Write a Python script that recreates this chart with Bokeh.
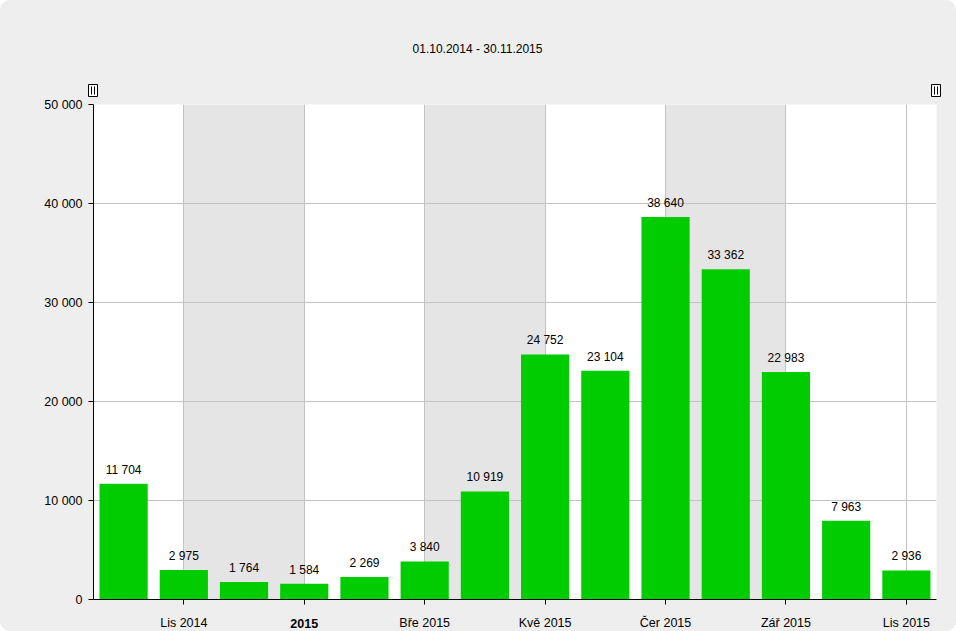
from bokeh.plotting import figure
from bokeh.models import FixedTicker, ColumnDataSource, Grid, CustomLabelingPolicy
from bokeh.layouts import column
from bokeh.core.properties import value
from bokeh.embed import file_html
from bokeh.resources import INLINE

months = ["Říj 2014", "Lis 2014", "Pro 2014", "Led 2015", "Úno 2015", "Bře 2015", "Dub 2015",
          "Kvě 2015", "Čer 2015", "Čvc 2015", "Srp 2015", "Zář 2015", "Říj 2015", "Lis 2015"]
visits = [11704, 2975, 1764, 1584, 2269, 3840, 10919, 24752, 23104, 38640, 33362, 22983, 7963, 2936]
tick_pos = [1, 3, 5, 7, 9, 11, 13]
tick_labels = ["Lis 2014", "2015", "Bře 2015", "Kvě 2015", "Čer 2015", "Zář 2015", "Lis 2015"]
tick_bold = [False, True, False, False, False, False, False]
y_ticks = [0, 10000, 20000, 30000, 40000, 50000]
title_text = "01.10.2014 - 30.11.2015"

FONT = "Liberation Sans"
AXIS_FS = "12.5px"
BG = "#eeeeee"
W = 956
LEFT, RIGHT = 93, 20          # frame borders (px)
TOP_H, MAIN_H, BOT_H = 97, 518, 16

def fmt(v):
    return f"{v:,}".replace(",", " ")

# ---------------- top strip: title + scrollbar handles ----------------
top = figure(width=W, height=TOP_H, output_backend="svg", toolbar_location=None,
             x_range=(0, W), y_range=(TOP_H, 0), x_axis_type=None, y_axis_type=None,
             min_border=0, min_border_left=0, min_border_right=0, min_border_top=0, min_border_bottom=0)
top.frame_align = False
top.background_fill_color = BG
top.border_fill_color = BG
top.outline_line_color = None
top.text(x=[W / 2 - 1], y=[48], text=[title_text], text_align="center", text_baseline="middle",
         text_font=value(FONT), text_font_size="12px", text_color="black")
hx = [LEFT - 0.5, W - RIGHT - 0.5]
top.rect(x=hx, y=[90, 90], width=9, height=12, fill_color="white", line_color="black", line_width=1)
top.segment(x0=[h - 1.5 for h in hx] + [h + 1.5 for h in hx], y0=[86] * 4,
            x1=[h - 1.5 for h in hx] + [h + 1.5 for h in hx], y1=[94] * 4,
            line_color="black", line_width=1)

# ---------------- main chart ----------------
src = ColumnDataSource(dict(x=list(range(len(visits))), v=visits, lab=[fmt(v) for v in visits]))

p = figure(width=W, height=MAIN_H, output_backend="svg", toolbar_location=None,
           x_range=(-0.5, len(visits) - 0.5), y_range=(0, 50000),
           min_border_left=LEFT, min_border_right=RIGHT, min_border_top=7, min_border_bottom=5)
p.border_fill_color = BG
p.background_fill_color = "white"
p.outline_line_color = None

# bands between every other labelled month + grid lines
p.xgrid.ticker = FixedTicker(ticks=tick_pos[:-1])
p.xgrid.grid_line_color = "#c2c2c2"
p.xgrid.band_fill_color = "#e5e5e5"
p.xgrid.band_fill_alpha = 1
p.add_layout(Grid(dimension=0, ticker=FixedTicker(ticks=tick_pos[-1:]), grid_line_color="#c2c2c2"))
p.ygrid.ticker = FixedTicker(ticks=y_ticks)
p.ygrid.grid_line_color = "#c2c2c2"

p.xaxis.ticker = FixedTicker(ticks=tick_pos)
p.xaxis.major_label_policy = CustomLabelingPolicy(
    code="for (let i = 0; i < indices.size; i++) { indices.unset(i) }")
p.xaxis.major_label_standoff = 0
p.yaxis.ticker = FixedTicker(ticks=y_ticks)
p.yaxis.major_label_overrides = {t: fmt(t) for t in y_ticks}
p.yaxis.major_label_text_font = FONT
p.yaxis.major_label_text_font_size = AXIS_FS
p.yaxis.major_label_text_color = "black"
p.yaxis.major_label_standoff = 6
for ax in (p.xaxis, p.yaxis):
    ax.axis_line_color = "black"
    ax.major_tick_line_color = "black"
    ax.minor_tick_line_color = None
    ax.major_tick_out = 5
    ax.major_tick_in = 0

p.vbar(x="x", top="v", width=0.8, source=src, fill_color="#00cc00", line_color=None)
p.text(x="x", y="v", text="lab", source=src, text_align="center", text_baseline="bottom",
       y_offset=-7, text_font=value(FONT), text_font_size="12px", text_color="black")

# ---------------- bottom strip: x tick labels ----------------
bot = figure(width=W, height=BOT_H, output_backend="svg", toolbar_location=None,
             x_range=p.x_range, y_range=(BOT_H, 0), x_axis_type=None, y_axis_type=None,
             min_border_left=LEFT, min_border_right=RIGHT, min_border_top=0, min_border_bottom=0)
bot.background_fill_color = BG
bot.border_fill_color = BG
bot.outline_line_color = None
for bold in (False, True):
    xs = [t for t, b in zip(tick_pos, tick_bold) if b == bold]
    ls = [l for l, b in zip(tick_labels, tick_bold) if b == bold]
    bot.text(x=xs, y=[7.5] * len(xs), text=ls, text_align="center", text_baseline="middle",
             text_font=value(FONT), text_font_size=AXIS_FS, text_color="black",
             text_font_style="bold" if bold else "normal")

layout = column(top, p, bot, spacing=0)
layout.styles = {"border-radius": "10px", "overflow": "hidden", "background-color": BG}

open("out.html", "w").write(file_html(layout, INLINE))
